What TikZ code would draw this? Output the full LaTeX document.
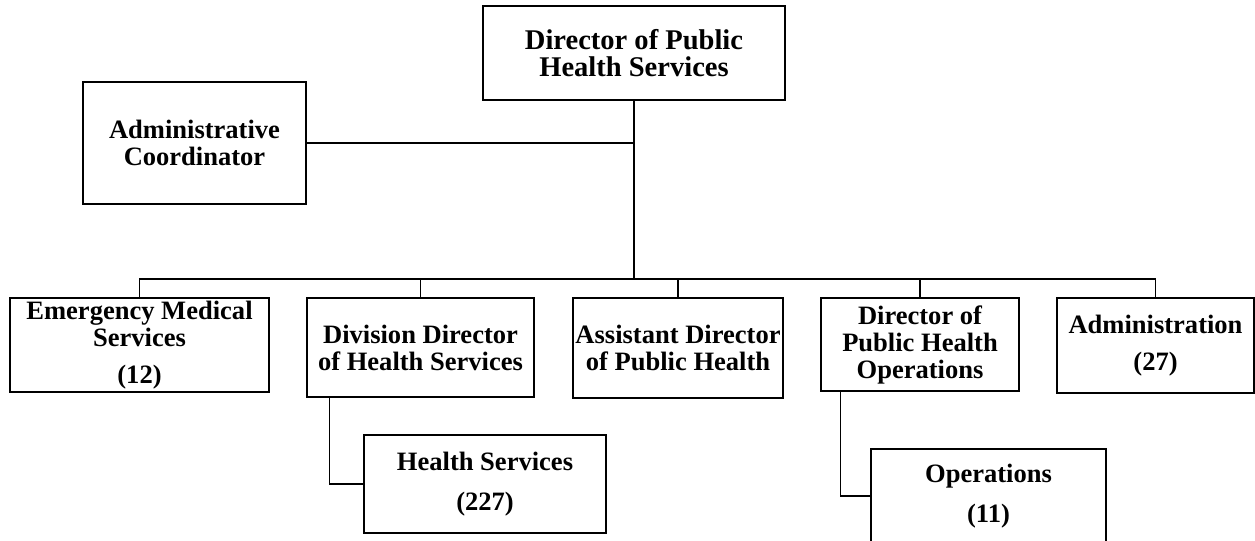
\documentclass[tikz,border=0pt]{standalone}
\usepackage{fontspec}
\setmainfont{Liberation Serif}
\begin{document}
\begin{tikzpicture}[x=0.75pt,y=-0.75pt,
  bx/.style 2 args={draw=black, line width=0.9pt, fill=white, inner sep=0pt,
    minimum width=#1*0.75pt, minimum height=#2*0.75pt, align=center,
    font=\fontsize{19.9pt}{20.25pt}\selectfont\bfseries},
  bigtext/.style={font=\fontsize{21.4pt}{20.25pt}\selectfont\bfseries},
  conn/.style={draw=black, line width=0.9pt}]
\useasboundingbox (0,0) rectangle (1255,541);
\node[bx={302}{94}, bigtext] (top) at (634,53) {Director of Public\\Health Services};
\node[bx={223}{122}] (coord) at (194.5,143) {Administrative\\Coordinator};
\node[bx={259}{94}] (ems) at (139.5,345) {Emergency Medical\\Services\\[8pt](12)};
\node[bx={227}{99}] (div) at (420.5,347.5) {Division Director\\of Health Services};
\node[bx={210}{100}] (asst) at (678,348) {Assistant Director\\of Public Health};
\node[bx={198}{93}] (dpho) at (920,344.5) {Director of\\Public Health\\Operations};
\node[bx={197}{95}] (admin) at (1155.5,345.5) {Administration\\[8pt](27)};
\node[bx={242}{98}] (hs) at (485,484) {Health Services\\[10pt](227)};
\node[bx={235}{94}] (ops) at (988.5,496) {Operations\\[10pt](11)};
\coordinate (busc) at (634,279);
\path[conn] (top.south) -- (busc);
\path[conn] (coord.east) -- (coord.east -| top.south);
\path[conn] (ems.north) -- (ems.north |- busc) -- (admin.north |- busc) -- (admin.north);
\path[conn] (div.north) -- (div.north |- busc);
\path[conn] (asst.north) -- (asst.north |- busc);
\path[conn] (dpho.north) -- (dpho.north |- busc);
\path[conn] (div.south west) ++(23,0) |- (hs.west);
\path[conn] (dpho.south west) ++(20,0) |- (ops.west);
\end{tikzpicture}
\end{document}
